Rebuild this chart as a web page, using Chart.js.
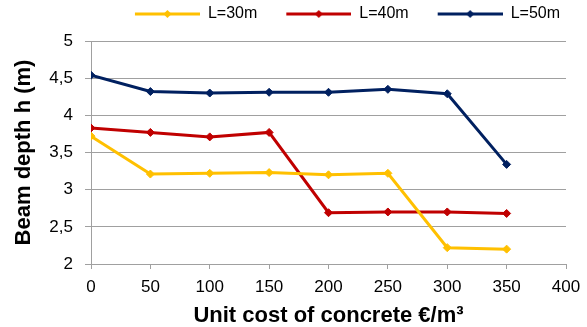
<!DOCTYPE html>
<html>
<head>
<meta charset="utf-8">
<script src="https://cdn.jsdelivr.net/npm/chart.js@4/dist/chart.umd.min.js"></script>
<style>
  html, body { margin: 0; padding: 0; background: #fff; }
  #wrap { width: 587px; height: 327px; }
</style>
</head>
<body>
<div id="wrap"><canvas id="myChart" width="587" height="327"></canvas></div>
<script>
// data
const costs = [0, 50, 100, 150, 200, 250, 300, 350];
const depth30 = [3.72, 3.21, 3.22, 3.23, 3.20, 3.22, 2.22, 2.20];
const depth40 = [3.83, 3.77, 3.71, 3.77, 2.69, 2.70, 2.70, 2.68];
const depth50 = [4.54, 4.32, 4.30, 4.31, 4.31, 4.35, 4.29, 3.34];
const seriesNames = ['L=30m', 'L=40m', 'L=50m'];
const seriesColors = ['#FFC000', '#C00000', '#002060'];

const GRID = '#a0a0a0';
const FONT = 'Arial, "Liberation Sans", sans-serif';
const LEG_GAP = 23;   // blank space in front of each legend sample
const LEG_LINE = 65;

Chart.defaults.font.family = FONT;
Chart.defaults.color = '#000';

// legend sample: line with a diamond in the middle
function legendMark(color) {
  const c = document.createElement('canvas');
  c.width = LEG_GAP + LEG_LINE;
  c.height = 10;
  const g = c.getContext('2d');
  g.strokeStyle = color;
  g.lineWidth = 3;
  g.beginPath();
  g.moveTo(LEG_GAP, 5);
  g.lineTo(LEG_GAP + LEG_LINE, 5);
  g.stroke();
  const cx = LEG_GAP + LEG_LINE / 2;
  g.fillStyle = color;
  g.beginPath();
  g.moveTo(cx, 1); g.lineTo(cx + 4, 5); g.lineTo(cx, 9); g.lineTo(cx - 4, 5);
  g.closePath();
  g.fill();
  return c;
}

function points(ys) {
  return costs.map((x, i) => ({ x: x, y: ys[i] }));
}

const allDepths = [depth30, depth40, depth50];
const data = {
  datasets: allDepths.map((ys, i) => ({
    label: seriesNames[i],
    data: points(ys),
    borderColor: seriesColors[i],
    backgroundColor: seriesColors[i],
    borderWidth: 3,
    pointStyle: 'rectRot',
    pointRadius: 4,
    pointHoverRadius: 4,
    pointBorderWidth: 1,
    tension: 0
  }))
};

// extra room under the legend
const legendGap = {
  id: 'legendGap',
  afterInit(chart) {
    const lg = chart.legend;
    const fit = lg.fit;
    lg.fit = function () {
      fit.call(this);
      this.height += 9;
    };
  }
};

const config = {
  type: 'line',
  data,
  options: {
    responsive: false,
    animation: false,
    layout: { padding: { top: 0, right: 21, bottom: 0, left: 0 } },
    plugins: {
      tooltip: { enabled: false },
      legend: {
        position: 'top',
        align: 'end',
        labels: {
          usePointStyle: true,
          pointStyleWidth: LEG_GAP + LEG_LINE,
          padding: 6,
          font: { size: 16 },
          generateLabels(chart) {
            const items = Chart.defaults.plugins.legend.labels.generateLabels(chart);
            items.forEach((it, i) => { it.pointStyle = legendMark(seriesColors[i]); });
            return items;
          }
        }
      }
    },
    scales: {
      x: {
        type: 'linear',
        min: 0,
        max: 400,
        afterFit(s) { s.height = 63; s.paddingLeft = 0; s.paddingRight = 0; },
        ticks: { stepSize: 50, padding: 8, font: { size: 17 } },
        grid: { drawOnChartArea: false, tickLength: 5, color: GRID },
        border: { color: GRID },
        title: {
          display: true,
          text: 'Unit cost of concrete €/m³',
          font: { size: 22, weight: 'bold', lineHeight: 1 },
          padding: { top: 0, bottom: 0 }
        }
      },
      y: {
        min: 2,
        max: 5,
        afterFit(s) { s.width = 91; },
        ticks: {
          stepSize: 0.5,
          padding: 12,
          font: { size: 17 },
          callback: v => String(v).replace('.', ',')
        },
        grid: { tickLength: 6, color: GRID },
        border: { color: GRID },
        title: {
          display: true,
          text: 'Beam depth h (m)',
          font: { size: 22, weight: 'bold', lineHeight: 1.2 },
          padding: { top: 11, bottom: 0 }
        }
      }
    }
  },
  plugins: [legendGap]
};

const myChart = new Chart(document.getElementById('myChart'), config);
</script>
</body>
</html>
